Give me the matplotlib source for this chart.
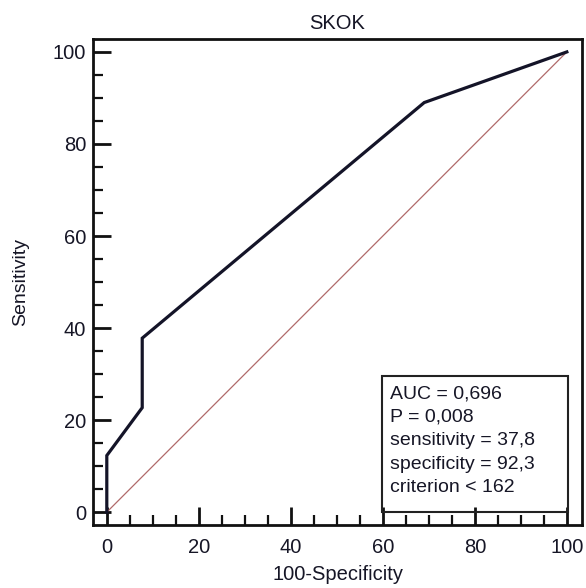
import matplotlib.pyplot as plt
from matplotlib.ticker import MultipleLocator

# ROC curve points (100-Specificity, Sensitivity)
fpr = [0, 0, 7.7, 7.7, 69, 100]
tpr = [0, 12.3, 22.7, 37.8, 89, 100]
diag = [0, 100]

stats_lines = ["AUC = 0,696", "P = 0,008", "sensitivity = 37,8",
               "specificity = 92,3", "criterion < 162"]

plt.rcParams['font.family'] = ['Liberation Sans', 'DejaVu Sans']

fig = plt.figure(figsize=(5.86, 5.88), dpi=100)
ax = fig.add_axes([0.1587, 0.1071, 0.8345, 0.8265])

ax.plot(diag, diag, color='#b06a6a', lw=0.9, zorder=2)
ax.plot(fpr, tpr, color='#141428', lw=2.3, solid_joinstyle='miter', zorder=3)

ax.set_xlim(-3, 103.3)
ax.set_ylim(-2.8, 102.8)

ax.xaxis.set_major_locator(MultipleLocator(20))
ax.xaxis.set_minor_locator(MultipleLocator(5))
ax.yaxis.set_major_locator(MultipleLocator(20))
ax.yaxis.set_minor_locator(MultipleLocator(5))
ax.tick_params(which='major', direction='in', length=13, width=2, color='#111',
               labelsize=14.5, labelcolor='#161626', pad=5)
ax.tick_params(axis='x', which='major', pad=9)
ax.tick_params(which='minor', direction='in', length=7, width=1.6, color='#111')
for s in ax.spines.values():
    s.set_linewidth(2)
    s.set_color('#111')

ax.set_title("SKOK", fontsize=14.5, color='#161626', pad=7)
ax.set_xlabel("100-Specificity", fontsize=14.5, color='#161626', labelpad=6)
ax.set_ylabel("Sensitivity", fontsize=14, color='#161626', labelpad=17)

ax.text(61.5, 27.6, "\n".join(stats_lines), fontsize=14, color='#161626',
        va='top', ha='left', linespacing=1.5, zorder=5)
box = plt.Rectangle((59.8, 0), 40.5, 29.5, fill=False, lw=1.5,
                    edgecolor='#222', zorder=4)
ax.add_patch(box)

fig.savefig("out.png", dpi=100)
